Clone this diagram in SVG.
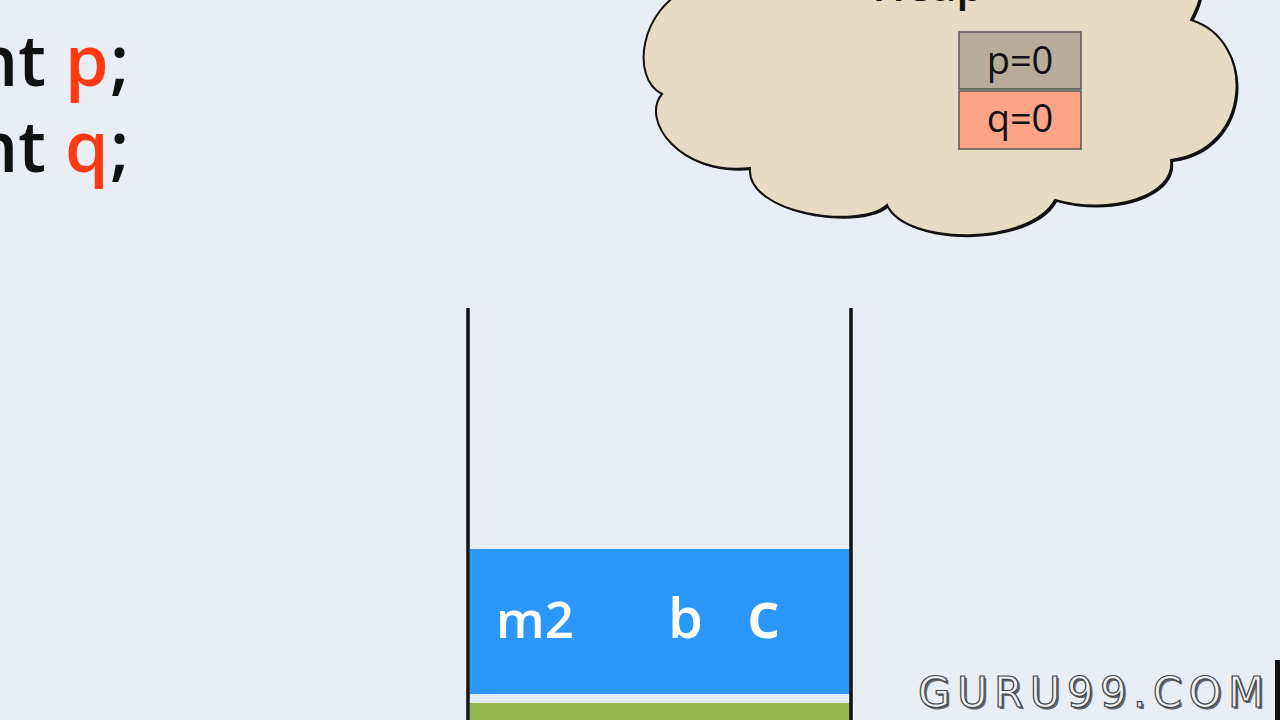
<svg xmlns="http://www.w3.org/2000/svg" width="1280" height="720" viewBox="0 0 1280 720">
<style>
.code{font-family:"Open Sans","DejaVu Sans",sans-serif;font-size:70px;font-weight:600}
.blk{fill:#111}
.red{fill:#ff3a12}
.box{stroke:#555;stroke-width:1.5}
.boxt{font-family:"Open Sans","DejaVu Sans",sans-serif;font-size:38px;fill:#111;text-anchor:middle}
.wt{font-family:"Open Sans","DejaVu Sans",sans-serif;font-size:56px;fill:#fff;font-weight:600}
.wall{stroke:#111;stroke-width:3.5}
.wm{font-family:"DejaVu Sans","Liberation Sans",sans-serif;font-size:42px;letter-spacing:6.4px}
</style>
<rect width="1280" height="720" fill="#e9edf4"/>
<g id="code">
<text class="code blk" x="46" y="86" text-anchor="end">int</text>
<text class="code red" x="65" y="86">p</text>
<text class="code blk" x="110" y="86">;</text>
<text class="code blk" x="46" y="172" text-anchor="end">int</text>
<text class="code red" x="65" y="172">q</text>
<text class="code blk" x="110" y="172">;</text>
</g>
<g id="heap">
<path d="M 692 -10 C 642 10 632 80 664 96 C 642 122 682 178 752 170 C 748 216 862 232 889 207 C 907 248 1032 248 1057 202 C 1112 218 1178 198 1173 162 C 1254 152 1259 42 1193 22 C 1198 12 1203 2 1203 -10 Z" fill="#111"/>
<path d="M 690 -12 C 640 8 630 78 662 94 C 640 120 680 176 750 168 C 746 214 860 230 887 205 C 905 246 1030 246 1055 200 C 1110 216 1176 196 1171 160 C 1252 150 1257 40 1191 20 C 1196 10 1201 0 1201 -12 Z" fill="#e6dcc3" stroke="#111" stroke-width="2"/>
<text x="928" y="1" font-family="Open Sans, DejaVu Sans, sans-serif" font-size="44" font-weight="600" fill="#111" text-anchor="middle">Heap</text>
</g>
<g id="var-p">
<rect class="box" x="959" y="32" width="122" height="57" fill="#b6ad99"/>
<text class="boxt" x="1020" y="74">p=0</text>
</g>
<g id="var-q">
<rect class="box" x="959" y="91" width="122" height="58" fill="#ffa487"/>
<text class="boxt" x="1020" y="132">q=0</text>
</g>
<g id="stack">
<rect x="470" y="549" width="380" height="145" fill="#2b97fb"/>
<rect x="470" y="694" width="380" height="9" fill="#e6ecf5"/>
<rect x="470" y="703" width="380" height="17" fill="#96b84f"/>
<line class="wall" x1="468" y1="308" x2="468" y2="720"/>
<line class="wall" x1="851" y1="308" x2="851" y2="720"/>
<text class="wt" x="496" y="638" style="font-size:51px">m2</text>
<text class="wt" x="668" y="638">b</text>
<text class="wt" x="747" y="638" style="font-size:66px">c</text>
</g>
<g id="connectors"/>
<g id="watermark">
<text class="wm" x="920" y="709" fill="#666">GURU99.COM</text>
<text class="wm" x="918" y="707" fill="#eef1f6" stroke="#444" stroke-width="1.2">GURU99.COM</text>
</g>
<rect x="1275" y="660" width="5" height="60" fill="#111"/>
</svg>
